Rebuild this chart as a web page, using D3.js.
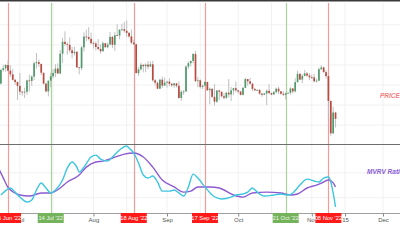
<!DOCTYPE html>
<html><head><meta charset="utf-8">
<script src="https://cdn.jsdelivr.net/npm/d3@7"></script>
<style>html,body{margin:0;padding:0;background:#fff;overflow:hidden}svg{display:block}</style>
</head><body>
<svg id="c" width="400" height="240"></svg>
<script>
// ---- DATA (prices in thousand USD, daily from 22 Jun 2022) ----
const startDay = "2022-06-22";
const opens = [20.72,19.97,21.09,21.23,21.50,21.03,20.73,20.28,20.10,
19.78,19.30,19.25,19.30,20.23,20.19,20.55,21.64,21.73,21.59,20.86,19.97,19.33,20.21,20.57,20.84,21.20,20.80,22.43,23.41,23.23,23.16,22.71,22.47,22.58,21.31,21.25,22.95,23.84,23.80,23.65,
23.30,23.27,22.98,22.82,22.63,23.29,22.96,23.18,23.81,23.16,23.95,23.93,24.40,24.44,24.31,24.14,23.85,23.34,23.21,20.83,21.14,21.52,21.40,21.53,21.37,21.56,20.24,20.04,19.55,20.29,19.80,
20.05,20.13,19.95,19.83,19.99,19.79,18.79,19.29,19.32,21.37,21.65,21.83,22.40,20.18,20.24,19.70,19.80,20.11,19.42,19.54,18.88,18.48,19.40,19.30,18.93,18.80,19.22,19.08,19.41,19.59,
19.42,19.31,19.04,19.62,20.34,20.16,19.96,19.53,19.42,19.45,19.14,19.05,19.16,19.38,19.19,19.07,19.27,19.55,19.33,19.13,19.05,19.17,19.21,19.57,19.33,20.09,20.77,20.30,20.60,20.81,20.63,
20.49,20.48,20.16,20.21,21.15,21.30,20.91,20.59,18.54,15.88,17.59];
const closes = [19.97,21.09,21.23,21.50,21.03,20.73,20.28,20.10,19.78,
19.30,19.25,19.30,20.23,20.19,20.55,21.64,21.73,21.59,20.86,19.97,19.33,20.21,20.57,20.84,21.20,20.80,22.43,23.41,23.23,23.16,22.71,22.47,22.58,21.31,21.25,22.95,23.84,23.80,23.65,23.30,
23.27,22.98,22.82,22.63,23.29,22.96,23.18,23.81,23.16,23.95,23.93,24.40,24.44,24.31,24.14,23.85,23.34,23.21,20.83,21.14,21.52,21.40,21.53,21.37,21.56,20.24,20.04,19.55,20.29,19.80,20.05,
20.13,19.95,19.83,19.99,19.79,18.79,19.29,19.32,21.37,21.65,21.83,22.40,20.18,20.24,19.70,19.80,20.11,19.42,19.54,18.88,18.48,19.40,19.30,18.93,18.80,19.22,19.08,19.41,19.59,19.42,
19.31,19.04,19.62,20.34,20.16,19.96,19.53,19.42,19.45,19.14,19.05,19.16,19.38,19.19,19.07,19.27,19.55,19.33,19.13,19.05,19.17,19.21,19.57,19.33,20.09,20.77,20.30,20.60,20.81,20.63,20.49,
20.48,20.16,20.21,21.15,21.30,20.91,20.59,18.54,15.88,17.59,17.07];
const highs = [20.86,21.19,21.52,21.58,21.86,21.48,21.16,20.36,20.14,
20.84,19.39,19.63,20.30,20.70,20.65,21.81,22.49,21.95,21.60,20.86,20.04,20.22,20.86,21.15,21.56,21.63,22.73,23.75,24.27,23.38,23.76,22.99,22.99,22.65,21.32,23.09,24.18,24.42,24.61,24.17,
23.45,23.44,23.63,23.21,23.45,23.33,23.34,24.21,23.90,24.20,24.86,24.44,24.89,25.05,25.17,24.22,24.42,23.57,23.21,21.33,21.68,21.52,21.64,21.82,21.81,21.84,20.34,20.14,20.36,20.54,20.46,
20.20,20.40,19.99,19.99,20.03,20.16,19.45,19.43,21.46,21.80,21.86,22.49,22.67,20.52,20.32,19.87,20.18,20.10,19.66,19.60,19.92,19.44,19.46,19.31,19.17,19.29,20.34,19.69,19.63,20.13,
19.47,19.38,19.68,20.44,20.35,20.44,20.04,19.60,19.51,19.52,19.23,19.21,19.49,19.93,19.22,19.36,19.64,19.70,19.35,19.35,19.25,19.25,19.68,19.60,20.40,21.02,20.86,20.75,21.08,20.93,20.83,
20.70,20.79,20.38,21.30,21.47,21.36,21.06,20.66,18.59,18.06,17.65];
const lows = [19.69,19.90,20.94,20.95,20.96,20.52,20.22,19.87,18.63,
19.03,18.98,18.78,19.06,19.32,19.78,20.25,21.22,21.34,20.67,19.90,19.24,18.92,19.66,20.39,20.50,20.77,20.77,21.68,23.06,22.35,22.53,22.05,22.29,21.26,20.73,21.05,22.61,23.45,23.52,23.23,
22.85,22.70,22.72,22.43,22.60,22.93,22.87,23.16,22.89,22.67,23.90,23.62,24.30,24.18,23.80,23.71,23.22,23.15,20.83,20.60,21.05,20.89,20.90,21.16,21.33,20.11,19.80,19.53,19.56,19.61,19.80,
19.65,19.77,19.69,19.62,19.65,18.72,18.55,19.03,19.30,21.16,21.38,21.62,20.09,19.66,19.56,19.52,19.76,19.37,18.27,18.80,18.15,18.38,18.61,18.84,18.66,18.70,18.84,18.53,19.04,19.26,
19.16,19.00,19.00,19.59,19.80,19.91,19.35,19.35,19.35,19.05,18.89,19.01,18.19,19.10,19.02,19.06,19.16,19.11,19.07,18.94,18.67,19.13,19.07,19.17,19.24,20.06,20.25,20.00,20.57,20.55,20.24,
20.35,20.06,20.06,20.18,21.09,20.89,20.39,17.17,15.68,15.80,16.36];

const mvrvDates = ["2022-06-23","2022-06-24","2022-06-27","2022-06-29","2022-07-01","2022-07-04","2022-07-06","2022-07-08","2022-07-10","2022-07-12","2022-07-14","2022-07-16","2022-07-19","2022-07-21","2022-07-23","2022-07-25","2022-07-26","2022-07-28","2022-07-31","2022-08-02","2022-08-04","2022-08-07","2022-08-09","2022-08-12","2022-08-15","2022-08-16","2022-08-18","2022-08-20","2022-08-22","2022-08-24","2022-08-26","2022-08-28","2022-08-30","2022-09-02","2022-09-04","2022-09-06","2022-09-08","2022-09-10","2022-09-12","2022-09-14","2022-09-17","2022-09-20","2022-09-24","2022-09-28","2022-09-30","2022-10-03","2022-10-05","2022-10-07","2022-10-09","2022-10-12","2022-10-16","2022-10-19","2022-10-22","2022-10-24","2022-10-27","2022-10-30","2022-11-02","2022-11-04","2022-11-06","2022-11-08","2022-11-09","2022-11-10","2022-11-11"];
const mvrvValues = [0.813,0.824,0.847,0.827,0.803,0.779,0.789,0.837,0.871,0.847,0.823,0.837,0.886,0.944,0.973,0.948,0.924,0.948,0.997,1.006,0.987,0.977,0.997,1.031,1.050,1.040,1.016,0.968,0.910,0.895,0.905,0.876,0.832,0.832,0.837,0.823,0.808,0.852,0.914,0.895,0.852,0.813,0.794,0.803,0.813,0.818,0.827,0.847,0.827,0.808,0.813,0.818,0.813,0.823,0.861,0.890,0.881,0.876,0.895,0.900,0.876,0.823,0.755];
const maDates = ["2022-06-22","2022-06-24","2022-06-26","2022-06-28","2022-07-01","2022-07-05","2022-07-10","2022-07-14","2022-07-18","2022-07-21","2022-07-26","2022-07-29","2022-08-02","2022-08-05","2022-08-09","2022-08-14","2022-08-18","2022-08-22","2022-08-26","2022-08-30","2022-09-04","2022-09-08","2022-09-11","2022-09-14","2022-09-19","2022-09-23","2022-09-29","2022-10-03","2022-10-07","2022-10-13","2022-10-19","2022-10-23","2022-10-26","2022-10-30","2022-11-03","2022-11-06","2022-11-08","2022-11-10","2022-11-11"];
const maValues = [0.944,0.896,0.850,0.829,0.813,0.808,0.823,0.823,0.847,0.876,0.910,0.948,0.973,0.977,0.992,1.011,1.016,0.997,0.948,0.886,0.852,0.827,0.832,0.852,0.852,0.847,0.813,0.803,0.823,0.827,0.823,0.813,0.818,0.847,0.861,0.876,0.886,0.872,0.852];

const eventDates = ["2022-06-26","2022-07-14","2022-08-18","2022-09-17","2022-10-21","2022-11-08"];
const eventLabels = ["26 Jun '22","14 Jul '22","18 Aug '22","17 Sep '22","21 Oct '22","08 Nov '22"];
const eventKinds = ["sell","buy","sell","sell","buy","sell"];
const tickDates = ["2022-07-01","2022-08-01","2022-09-01","2022-10-01","2022-11-01","2022-11-15","2022-12-01"];
const tickLabels = ["Jul","Aug","Sep","Oct","Nov","15","Dec"];
const gridDates = ["2022-07-01","2022-07-15","2022-08-01","2022-08-15","2022-09-01","2022-09-15","2022-10-01","2022-10-15","2022-11-01","2022-11-15","2022-12-01"];
const gridPrices = [24.8,23.15,21.5,19.85,18.2,16.55];
const gridMvrv = [0.92,0.80];

// ---- CHART ----
const parse = d3.utcParse("%Y-%m-%d");
const svg = d3.select("#c");
const W = 400, H = 240;
const priceTop = 3, priceBot = 144, mvrvTop = 145, mvrvBot = 213;

const x = d3.scaleUtc().domain([parse("2022-06-26"), parse("2022-12-01")]).range([8, 383]);
const yP = d3.scaleLinear().domain([15.0, 26.6]).range([priceBot, priceTop]);
const yM = d3.scaleLinear().domain([0.726, 1.055]).range([mvrvBot, mvrvTop]);

const start = parse(startDay);
const candles = closes.map((c, i) => ({date: d3.utcDay.offset(start, i), o: opens[i], h: highs[i], l: lows[i], c}));

svg.append("rect").attr("width", W).attr("height", H).attr("fill", "#fff");

const defs = svg.append("defs");
defs.append("clipPath").attr("id", "cp").append("rect").attr("x", 0).attr("y", priceTop).attr("width", W).attr("height", priceBot - priceTop);
defs.append("clipPath").attr("id", "cm").append("rect").attr("x", 0).attr("y", mvrvTop).attr("width", W).attr("height", mvrvBot - mvrvTop);

// grid
const g = svg.append("g");
g.selectAll("line.vg").data(gridDates).join("line")
  .attr("x1", d => x(parse(d))).attr("x2", d => x(parse(d)))
  .attr("y1", priceTop).attr("y2", mvrvBot).attr("stroke", "#f1f1f4").attr("stroke-width", 1);
g.selectAll("line.hp").data(gridPrices).join("line")
  .attr("x1", 0).attr("x2", W).attr("y1", d => yP(d)).attr("y2", d => yP(d))
  .attr("stroke", "#f1f1f4");
g.selectAll("line.hm").data(gridMvrv).join("line")
  .attr("x1", 0).attr("x2", W).attr("y1", d => yM(d)).attr("y2", d => yM(d))
  .attr("stroke", "#f1f1f4");

// event vertical lines
svg.append("g").selectAll("line").data(eventDates).join("line")
  .attr("x1", d => Math.round(x(parse(d))) + 0.5).attr("x2", d => Math.round(x(parse(d))) + 0.5)
  .attr("y1", priceTop).attr("y2", mvrvBot)
  .attr("stroke", (d, i) => eventKinds[i] === "sell" ? "#f59a9a" : "#a8d497").attr("stroke-width", 1.2);

// candles
const cg = svg.append("g").attr("clip-path", "url(#cp)");
cg.selectAll("line.w").data(candles).join("line")
  .attr("x1", d => x(d.date)).attr("x2", d => x(d.date))
  .attr("y1", d => yP(d.h)).attr("y2", d => yP(d.l))
  .attr("stroke", "#b9b9b9").attr("stroke-width", 0.9);
cg.selectAll("rect.b").data(candles).join("rect")
  .attr("x", d => x(d.date) - 0.85).attr("width", 1.7)
  .attr("y", d => yP(Math.max(d.o, d.c)))
  .attr("height", d => Math.max(0.8, Math.abs(yP(d.o) - yP(d.c))))
  .attr("fill", d => d.c >= d.o ? "#4f9a6c" : "#b84a3f");

// MVRV lines
const mg = svg.append("g").attr("clip-path", "url(#cm)");
const line = d3.line().x(d => x(d[0])).y(d => yM(d[1])).curve(d3.curveMonotoneX);
mg.append("path").datum(maDates.map((d, i) => [parse(d), maValues[i]]))
  .attr("d", line).attr("fill", "none").attr("stroke", "#8d5ad2").attr("stroke-width", 1.4);
mg.append("path").datum(mvrvDates.map((d, i) => [parse(d), mvrvValues[i]]))
  .attr("d", line).attr("fill", "none").attr("stroke", "#3cc7df").attr("stroke-width", 1.4);

// borders
svg.append("line").attr("x1", 0).attr("x2", W).attr("y1", 0.75).attr("y2", 0.75).attr("stroke", "#3a3a3a").attr("stroke-width", 1.5);
svg.append("line").attr("x1", 0).attr("x2", W).attr("y1", 144.5).attr("y2", 144.5).attr("stroke", "#6e6e6e").attr("stroke-width", 1.2);
svg.append("line").attr("x1", 0).attr("x2", W).attr("y1", 213.5).attr("y2", 213.5).attr("stroke", "#a0a0a0").attr("stroke-width", 1);

// x axis
const ax = d3.axisBottom(x).tickValues(tickDates.map(parse)).tickFormat((d, i) => tickLabels[i]).tickSize(3).tickPadding(1.5);
const axg = svg.append("g").attr("transform", `translate(0,${mvrvBot + 0.5})`).call(ax);
axg.select(".domain").remove();
axg.selectAll("line").attr("stroke", "#888");
axg.selectAll("text").attr("fill", "#555").attr("font-size", 6).attr("font-family", "Liberation Sans, Arial, sans-serif");

// event labels
const eg = svg.append("g");
eventDates.forEach((d, i) => {
  const cx = x(parse(d));
  const bw = 26;
  eg.append("rect").attr("x", cx - bw / 2).attr("y", 213).attr("width", bw).attr("height", 10)
    .attr("fill", eventKinds[i] === "sell" ? "#ff1a1a" : "#74b35c");
  eg.append("text").attr("x", cx).attr("y", 220.3).attr("text-anchor", "middle")
    .attr("font-size", 5.8).attr("font-family", "Liberation Sans, Arial, sans-serif")
    .attr("fill", eventKinds[i] === "sell" ? "#ffffff" : "#eef6e8").text(eventLabels[i]);
});

// pane titles
svg.append("text").attr("x", 380).attr("y", 98).attr("font-size", 6.5).attr("font-style", "italic").attr("font-weight", "bold")
  .attr("font-family", "Liberation Sans, Arial, sans-serif").attr("fill", "#f47f7f").text("PRICE");
svg.append("text").attr("x", 367).attr("y", 174).attr("font-size", 6.5).attr("font-style", "italic").attr("font-weight", "bold")
  .attr("font-family", "Liberation Sans, Arial, sans-serif").attr("fill", "#8a5cd4").text("MVRV Ratio");
</script>
</body></html>
